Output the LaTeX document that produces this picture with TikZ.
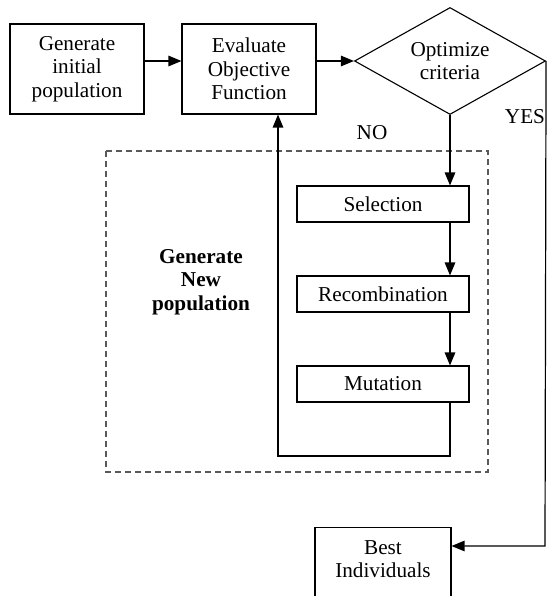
\documentclass[tikz,border=0pt]{standalone}
\usepackage{fontspec}
\setmainfont{Liberation Serif}
\usetikzlibrary{shapes.geometric,arrows.meta}
\begin{document}
\begin{tikzpicture}[x=1pt,y=-1pt,
  every node/.style={font=\fontsize{21.2}{23.5}\selectfont},
  box/.style={draw, line width=1.1pt, rectangle, inner sep=0pt, align=center},
  arr/.style={line width=1.2pt, -{Triangle[length=13pt,width=10.5pt]}},
  ln/.style={line width=1.2pt}]
\useasboundingbox (0,0) rectangle (547,596);
\fill[white] (0,0) rectangle (547,596);
\node[box, minimum width=134pt, minimum height=90pt] (b1) at (77,69) {Generate\\initial\\population};
\node[box, minimum width=134pt, minimum height=90pt] (b2) at (249,69) {Evaluate\\Objective\\Function};
\node[draw, line width=1.1pt, diamond, aspect=1.785, minimum width=191pt, minimum height=107pt, inner sep=0pt, align=center] (dia) at (450,61) {Optimize\\criteria};
\node[box, minimum width=172pt, minimum height=36pt] (sel) at (383,204) {Selection};
\node[box, minimum width=172pt, minimum height=36pt] (rec) at (383,294) {Recombination};
\node[box, minimum width=172pt, minimum height=36pt] (mut) at (383,384) {Mutation};
\node[box, minimum width=136pt, minimum height=73pt, anchor=north] (best) at (383,527) {};
\node (bt) at (383,559) [align=center] {Best\\Individuals};
\draw[dashed, dash pattern=on 6pt off 4pt, draw=black!65, line width=1.1pt] (106,151) rectangle (488,472);
\node[font=\bfseries\fontsize{21.2}{23.5}\selectfont, align=center] (gen) at (201,282) {Generate\\New\\population};
\node (no) at (372,133) {NO};
\node (yes) at (525,117) {YES};
\coordinate (fb) at (278,456);
\coordinate (yc) at (545,546);
\draw[arr] (b1.east |- dia.west) -- (b2.west |- dia.west);
\draw[arr] (b2.east |- dia.west) -- (dia.west);
\draw[arr] (dia.south) -- (dia.south |- sel.north);
\draw[arr] (dia.south |- sel.south) -- (dia.south |- rec.north);
\draw[arr] (dia.south |- rec.south) -- (dia.south |- mut.north);
\draw[arr] (dia.south |- mut.south) |- (fb) -- (fb |- b2.south);
\draw[arr] (dia.east) -- (yc) -- (best.east |- yc);
\end{tikzpicture}
\end{document}
